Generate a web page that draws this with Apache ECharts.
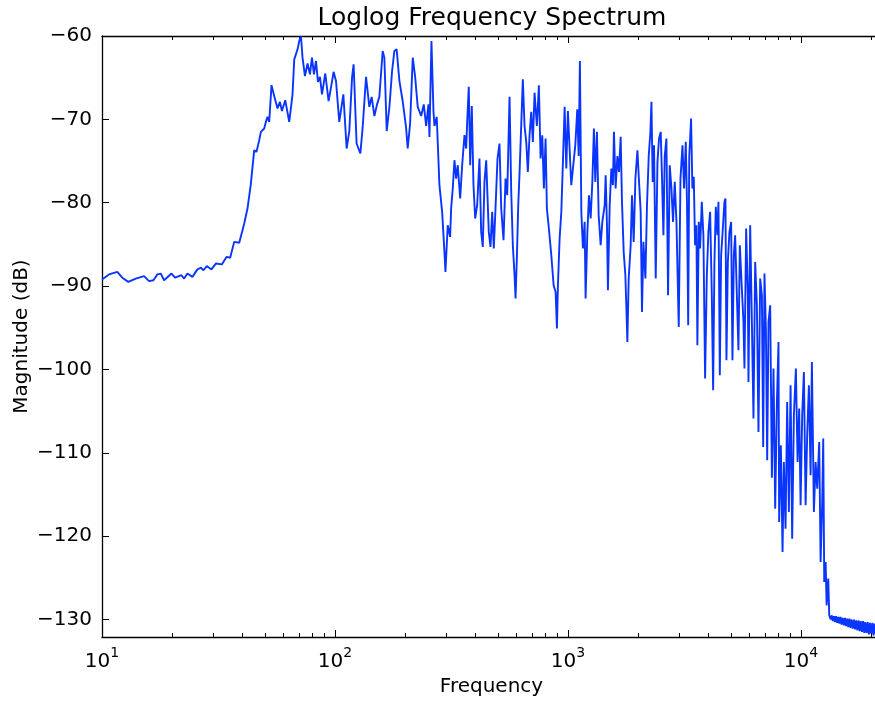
<!DOCTYPE html>
<html>
<head>
<meta charset="utf-8">
<script src="https://cdn.jsdelivr.net/npm/echarts@6/dist/echarts.min.js"></script>
<style>
html,body{margin:0;padding:0;background:#fff;}
#chart{width:875px;height:704px;}
</style>
</head>
<body>
<div id="chart"></div>
<script>
// ---- data ----
const freqHz = [
10.0,10.72,11.63,12.22,12.97,13.96,15.15,15.92,16.62,17.29,17.88,18.47,19.86,20.59,21.92,22.51,23.26,24.44,25.68,26.56,27.25,28.18,29.49,30.80,32.69,34.21,35.49,36.93,38.80,40.09,40.77,
42.12,43.55,45.00,46.04,47.28,48.08,49.68,50.52,51.32,52.20,53.40,54.84,56.66,58.02,59.18,61.15,63.62,65.73,66.85,69.07,70.24,71.43,72.56,74.31,76.24,78.08,79.64,81.24,82.86,84.52,86.21,87.94,90.85,93.86,96.11,98.62,
101.0,104.3,108.6,112.2,115.2,118.4,120.2,123.8,128.5,131.4,135.9,140.4,143.7,147.6,151.5,155.0,160.2,162.9,166.7,171.2,175.8,179.8,183.9,189.0,195.2,201.9,205.1,210.1,215.6,220.8,226.5,234.3,240.4,246.2,251.8,254.3,259.4,264.6,267.2,273.3,276.0,280.7,288.3,294.9,297.9,
304.7,312.0,315.1,320.2,325.6,331.1,336.4,344.5,351.4,359.5,365.6,369.3,375.1,380.4,386.4,393.0,399.6,407.6,416.9,424.0,430.8,438.1,445.6,457.1,464.9,472.8,480.4,488.5,498.3,508.2,516.9,528.8,539.4,548.5,561.2,570.7,579.8,589.7,595.5,
603.2,611.6,619.4,630.0,640.0,650.9,662.0,672.5,683.9,695.5,706.7,718.7,735.2,750.0,762.7,775.6,788.0,801.4,811.8,828.0,848.0,867.6,884.9,896.4,905.3,920.6,936.2,951.2,967.4,983.5,999.1,
1016,1033,1050,1075,1096,1111,1125,1141,1159,1179,1190,1210,1230,1251,1272,1292,1310,1331,1354,1381,1404,1437,1451,1470,1484,1510,1535,1559,1575,1601,1629,1655,1683,1705,1734,1763,1781,1798,1822,1858,1882,1914,1947,1986,
2018,2051,2078,2107,2149,2183,2221,2258,2281,2310,2340,2380,2421,2459,2500,2533,2568,2601,2645,2688,2733,2780,2824,2872,2921,2988,3039,3100,3149,3203,3243,3280,3315,3375,3419,3466,3511,3557,3592,3642,3690,3752,3812,3877,3943,
4006,4074,4143,4197,4251,4310,4379,4423,4484,4542,4619,4693,4740,4787,4854,4931,5014,5080,5150,5217,5305,5390,5465,5574,5664,5720,5817,5916,5951,6052,6155,6253,6359,6467,6570,6682,6795,6882,6971,7068,7160,7253,7376,7501,7621,7750,7882,
8007,8060,8196,8335,8443,8586,8724,8872,9022,9166,9322,9508,9670,9824,9961,10120,10292,10466,10632,10812,10996,11138,11361,11554,11739,11974,12141,12336,12459,12583,12758,12882,13091,13221,
13300,13420,13560,13700,13850,14000,14150,14300,14460,14620,14780,14940,15100,15270,15440,15610,15780,15960,16140,16320,16500,16690,16880,17070,17260,17460,17660,17860,18060,18270,18480,18690,18900,19120,19340,19560,19780,20010,20240,20470,20700,20940,21180,21430,21680,22050
];
const magnitudeDb = [
-89.2,-88.6,-88.3,-89.0,-89.5,-89.1,-88.8,-89.4,-89.3,-88.6,-88.5,-89.3,-88.5,-89.0,-88.7,-89.1,-88.5,-88.9,-88.0,-87.8,-88.1,-87.6,-88.0,-87.3,-87.4,-86.5,-86.6,-84.7,-84.8,-83.3,-82.5,
-80.7,-77.7,-73.7,-73.9,-72.5,-71.5,-71.1,-70.3,-69.7,-70.3,-65.9,-67.2,-68.7,-67.9,-69.0,-67.7,-70.3,-67.0,-62.8,-61.6,-60.6,-60.0,-62.6,-64.8,-63.3,-64.6,-62.6,-64.6,-63.0,-65.5,-64.9,-67.0,-64.5,-67.8,-66.2,-64.3,
-65.4,-70.3,-67.0,-73.5,-71.4,-64.9,-63.4,-72.9,-74.1,-71.0,-64.9,-68.5,-67.3,-69.6,-68.2,-67.3,-61.8,-62.6,-71.4,-68.5,-64.2,-61.8,-61.6,-65.4,-67.8,-71.0,-73.5,-70.5,-62.6,-64.9,-68.5,-69.6,-68.2,-70.8,-68.2,-72.1,-60.6,-69.0,-70.8,-69.7,-72.7,-77.9,-81.1,-85.9,-88.3,
-82.7,-84.1,-80.7,-78.3,-74.9,-77.1,-75.5,-79.5,-75.5,-71.9,-73.5,-70.3,-66.1,-75.5,-68.4,-77.9,-81.9,-80.3,-74.7,-83.5,-85.3,-77.5,-74.9,-83.5,-85.3,-81.1,-85.5,-80.7,-74.7,-72.9,-80.7,-84.5,-77.1,-79.1,-67.3,-78.7,-85.1,-88.7,-91.5,
-86.7,-80.3,-76.5,-76.7,-65.2,-70.8,-72.7,-76.3,-71.9,-69.1,-72.7,-66.8,-70.8,-65.9,-74.7,-71.9,-78.3,-72.3,-80.7,-83.1,-86.3,-89.9,-90.7,-95.1,-89.9,-84.3,-81.1,-75.1,-68.5,-75.9,-69.0,
-73.5,-77.9,-75.9,-73.1,-68.8,-74.4,-63.0,-81.1,-85.5,-82.3,-91.5,-83.9,-79.1,-81.9,-77.5,-71.1,-77.5,-71.5,-81.5,-85.1,-82.3,-80.3,-76.7,-82.7,-90.5,-80.3,-75.9,-77.9,-71.5,-78.3,-74.4,-76.3,-72.1,-79.9,-85.9,-88.7,-92.7,-96.7,-89.1,-85.1,-79.1,-84.7,-77.1,-73.7,
-77.5,-81.1,-93.1,-84.7,-89.1,-80.3,-74.4,-71.5,-67.9,-77.5,-73.1,-89.1,-75.1,-72.3,-71.5,-77.1,-83.9,-74.4,-72.3,-91.1,-75.5,-78.3,-82.3,-77.5,-82.3,-94.9,-77.1,-73.1,-78.3,-72.7,-80.3,-94.7,-74.4,-69.9,-78.3,-76.9,-85.1,-82.7,-97.1,-82.3,-85.5,-79.9,-83.9,-101.1,-88.7,
-83.5,-81.1,-91.1,-102.5,-87.1,-80.5,-83.9,-79.9,-100.7,-86.3,-83.1,-79.9,-79.5,-98.9,-87.1,-83.5,-82.3,-98.9,-86.3,-83.9,-83.9,-97.7,-85.1,-90.3,-94.3,-99.9,-83.1,-91.1,-101.5,-82.7,-94.3,-105.9,-87.1,-92.3,-107.5,-89.1,-91.1,-109.3,-88.5,-95.1,-110.9,-94.3,-92.3,-113.0,-99.9,-116.7,-103.9,
-96.7,-118.3,-109.1,-121.9,-111.1,-119.1,-103.9,-117.1,-101.9,-120.3,-105.5,-99.9,-111.1,-104.7,-116.3,-105.5,-100.3,-116.3,-107.9,-101.9,-112.7,-99.1,-117.1,-111.1,-114.3,-108.7,-123.1,-115.9,-108.3,-125.5,-123.1,-128.3,-125.1,-129.5,
-129.4,-130.0,-129.5,-130.2,-129.6,-130.3,-129.6,-130.4,-129.7,-130.5,-129.7,-130.6,-129.8,-130.7,-129.8,-130.8,-129.9,-130.9,-129.9,-131.0,-130.0,-131.1,-130.0,-131.2,-130.1,-131.3,-130.1,-131.4,-130.2,-131.5,-130.2,-131.6,-130.3,-131.6,-130.3,-131.8,-130.4,-131.7,-130.4,-131.9,-130.5,-131.8,-130.5,-131.9,-130.6,-131.8
];
const xMajorTicks = [10, 100, 1000, 10000];
const xMinorTicks = [20,30,40,50,60,70,80,90,200,300,400,500,600,700,800,900,2000,3000,4000,5000,6000,7000,8000,9000,20000];
const yTicks = [-130,-120,-110,-100,-90,-80,-70,-60];
const xRange = [10, 22050];
const yRange = [-132.1, -60];

const FONT = 'DejaVu Sans';
const seriesData = freqHz.map((f, i) => [f, magnitudeDb[i]]);

function logAxis(pos, ticks, len, showLine, showLabel, extra) {
  return Object.assign({
    type: 'log', logBase: 10, min: xRange[0], max: xRange[1], position: pos,
    axisLine: {show: showLine, onZero: false, lineStyle: {color: '#000', width: 1.3}},
    axisTick: {show: true, inside: true, length: len, customValues: ticks, lineStyle: {color: '#000', width: 1}},
    axisLabel: {show: showLabel},
    splitLine: {show: false}, minorTick: {show: false}, minorSplitLine: {show: false}
  }, extra || {});
}

const chart = echarts.init(document.getElementById('chart'), null, {renderer: 'canvas'});
chart.setOption({
  animation: false,
  backgroundColor: '#fff',
  title: {
    text: 'Loglog Frequency Spectrum', left: 492, top: 6, textAlign: 'center', padding: 0,
    textStyle: {fontFamily: FONT, fontSize: 25, fontWeight: 'normal', color: '#000'}
  },
  grid: {left: 102, right: -6, top: 36, bottom: 67, containLabel: false, outerBoundsMode: 'none'},
  xAxis: [
    logAxis('bottom', xMajorTicks, 7, true, true, {
      name: 'Frequency', nameLocation: 'middle', nameGap: 40, nameMoveOverlap: false,
      nameTextStyle: {fontFamily: FONT, fontSize: 20, color: '#000'},
      axisLabel: {
        show: true, customValues: xMajorTicks, margin: 9,
        formatter: function (v) { return '{b|10}{s|' + Math.round(Math.log10(v)) + '}'; },
        rich: {
          b: {fontFamily: FONT, fontSize: 20, color: '#000', lineHeight: 26, verticalAlign: 'bottom'},
          s: {fontFamily: FONT, fontSize: 14, color: '#000', lineHeight: 26, verticalAlign: 'top'}
        }
      }
    }),
    logAxis('bottom', xMinorTicks, 4, false, false),
    logAxis('top', xMajorTicks, 7, true, false),
    logAxis('top', xMinorTicks, 4, false, false)
  ],
  yAxis: [{
    type: 'value', min: yRange[0], max: yRange[1], position: 'left',
    name: 'Magnitude (dB)', nameLocation: 'middle', nameGap: 70, nameRotate: 90, nameMoveOverlap: false,
    nameTextStyle: {fontFamily: FONT, fontSize: 20, color: '#000'},
    axisLine: {show: true, onZero: false, lineStyle: {color: '#000', width: 1.3}},
    axisTick: {show: true, inside: true, length: 7, customValues: yTicks, lineStyle: {color: '#000', width: 1}},
    axisLabel: {show: true, customValues: yTicks, margin: 10, fontFamily: FONT, fontSize: 20, color: '#000',
      formatter: function (v) { return String(v).replace('-', '\u2212'); }},
    splitLine: {show: false}
  }],
  series: [{
    type: 'line', xAxisIndex: 0, yAxisIndex: 0, data: seriesData,
    showSymbol: false, symbol: 'none', sampling: null, clip: true,
    lineStyle: {color: '#0a35ff', width: 1.9}
  }]
});
</script>
</body>
</html>
